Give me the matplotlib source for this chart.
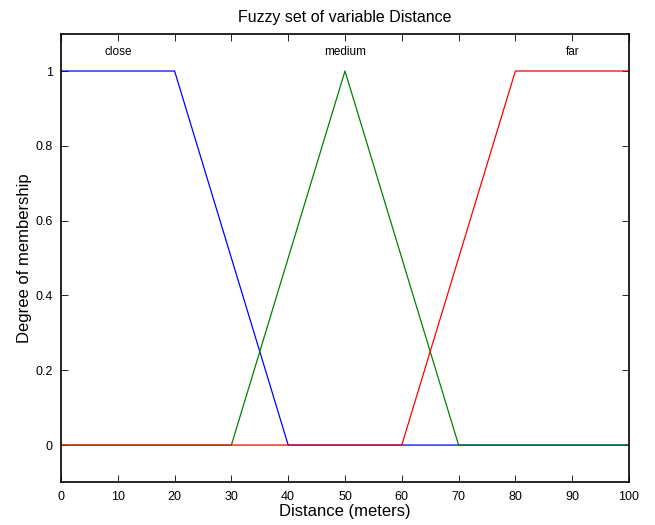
import numpy as np
import matplotlib
matplotlib.use("Agg")
import matplotlib.pyplot as plt

plt.rcParams["font.family"] = ["Liberation Sans", "DejaVu Sans"]

# membership function breakpoints (trapezoid / triangle)
x = np.linspace(0, 100, 1001)
set_names = ["close", "medium", "far"]
set_params = [[0, 0, 20, 40], [30, 50, 50, 70], [60, 80, 100, 100]]
set_colors = ["blue", "green", "red"]
label_x = [10, 50, 90]


def trapmf(v, p):
    a, b, c, d = p
    y = np.ones_like(v)
    if b > a:
        y = np.minimum(y, (v - a) / (b - a))
    else:
        y = np.where(v < a, 0.0, y)
    if d > c:
        y = np.minimum(y, (d - v) / (d - c))
    else:
        y = np.where(v > d, 0.0, y)
    return np.clip(y, 0, 1)


fig = plt.figure(figsize=(6.55, 5.25), dpi=100)
ax = fig.add_axes([0.0931, 0.081, 0.8672, 0.855])

for name, p, c, lx in zip(set_names, set_params, set_colors, label_x):
    ax.plot(x, trapmf(x, p), color=c, linewidth=0.9)
    ax.text(lx, 1.05, name, ha="center", va="center", fontsize=8.5)

ax.set_xlim(0, 100)
ax.set_ylim(-0.1, 1.1)
ax.set_xticks(np.arange(0, 101, 10))
ax.set_yticks([0, 0.2, 0.4, 0.6, 0.8, 1])
ax.set_yticklabels(["0", "0.2", "0.4", "0.6", "0.8", "1"])
ax.tick_params(direction="in", top=True, right=True, labelsize=9, length=5, width=0.6, pad=6)
for s in ax.spines.values():
    s.set_linewidth(1.2)

ax.set_title("Fuzzy set of variable Distance", fontsize=11.5, pad=8)
ax.set_xlabel("Distance (meters)", fontsize=12, labelpad=1)
ax.set_ylabel("Degree of membership", fontsize=12, labelpad=2)

fig.savefig("out.png", dpi=100)
